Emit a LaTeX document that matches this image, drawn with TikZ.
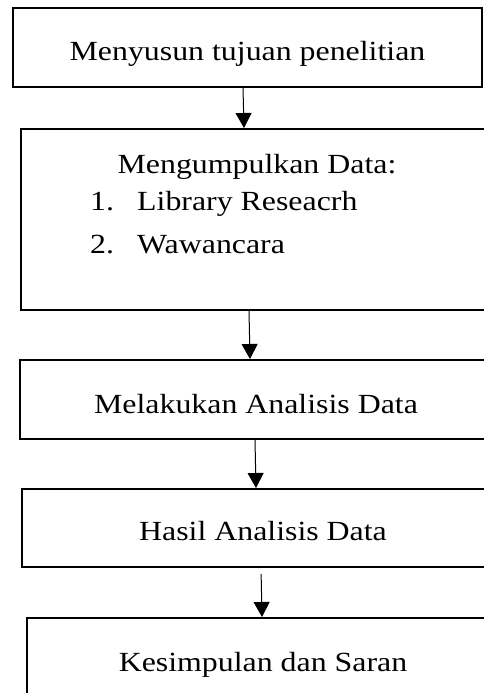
\documentclass[tikz,border=0pt]{standalone}
\usepackage{fontspec}
\setmainfont[FakeStretch=1.15]{Liberation Serif}
\usetikzlibrary{arrows.meta}

\begin{document}
\begin{tikzpicture}[x=1pt,y=-1pt,
  box/.style={draw,line width=2pt,anchor=north west,inner sep=0pt,
    font=\fontsize{27.7}{32}\selectfont,text height=27pt,text depth=0pt},
  txt/.style={inner sep=0pt,font=\fontsize{27.7}{32}\selectfont},
  arr/.style={-{Triangle[width=16pt,length=15pt]},line width=1pt}]
\useasboundingbox (0,0) rectangle (484,693);
\clip (0,0) rectangle (484,693);
% boxes
\node [box,minimum width=469pt,minimum height=79pt] (tujuan) at (12,7) {Menyusun tujuan penelitian};
\node [box,minimum width=474pt,minimum height=181pt] (kumpul) at (20,128) {};
\node [txt,anchor=base] (kumpuljudul) at (257,173) {Mengumpulkan Data:};
\node [txt,anchor=base west] (nomor1) at (90,210) {1.};
\node [txt,anchor=base west] (library) at (137,210) {Library Reseacrh};
\node [txt,anchor=base west] (nomor2) at (90,253) {2.};
\node [txt,anchor=base west] (wawancara) at (137,253) {Wawancara};
\node [box,minimum width=472pt,minimum height=79pt] (analisis) at (19,359) {Melakukan Analisis Data};
\node [box,minimum width=482pt,minimum height=78pt,text height=24pt] (hasil) at (21,488) {Hasil Analisis Data};
\node [box,minimum width=472pt,minimum height=79pt] (kesimpulan) at (26,617) {Kesimpulan dan Saran};
% arrows
\draw [arr] ([xshift=-4.5pt]tujuan.south) -- ([xshift=-14pt]kumpul.north);
\draw [arr] ([xshift=-9pt]kumpul.south) -- ([xshift=-6pt]analisis.north);
\draw [arr] ([xshift=-1pt]analisis.south) -- ([xshift=-7pt]hasil.north);
\draw [arr,shorten <=6pt] ([xshift=-2pt]hasil.south) -- ([xshift=-1pt]kesimpulan.north);
\end{tikzpicture}
\end{document}
